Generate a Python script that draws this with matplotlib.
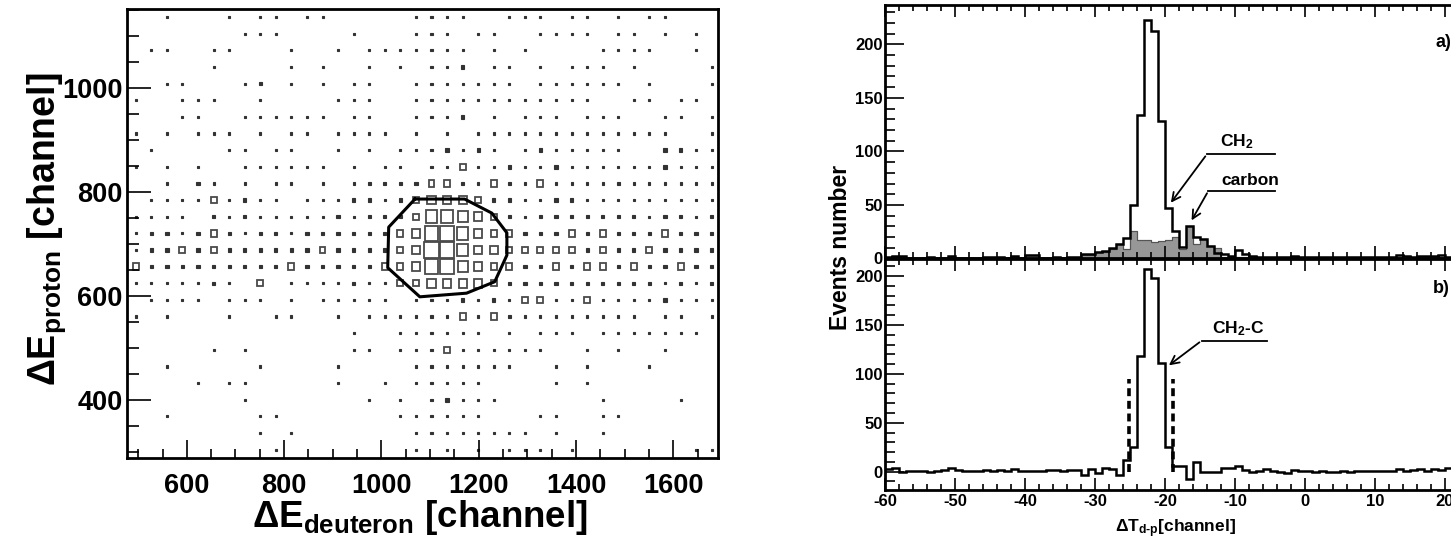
import numpy as np
import matplotlib
matplotlib.use('Agg')
import matplotlib.pyplot as plt
from matplotlib.patches import Rectangle
from matplotlib.ticker import MultipleLocator

plt.rcParams['font.family'] = ['Liberation Sans', 'DejaVu Sans']
plt.rcParams['font.weight'] = 'bold'
plt.rcParams['mathtext.fontset'] = 'custom'
plt.rcParams['mathtext.rm'] = 'Liberation Sans:bold'
plt.rcParams['mathtext.bf'] = 'Liberation Sans:bold'
plt.rcParams['mathtext.it'] = 'Liberation Sans:bold'
plt.rcParams['mathtext.sf'] = 'Liberation Sans'
plt.rcParams['mathtext.default'] = 'rm'
plt.rcParams['axes.unicode_minus'] = False

# ---- left: dE proton vs dE deuteron (box plot, 32 channel bins) ----
de_bin0 = 479      # first deuteron bin edge
dp_top = 1153      # top proton bin edge
bin_w = 32
# one string per proton bin (top -> bottom), one char per deuteron bin
# '.' empty, 1..8 = box size class
box_rows = [
    "..1...1.11" ".11.....11" "11..111.11" ".1.11...",
    ".......111" "....1...11" "1.11..1111" ".11.1.1.",
    ".11..11..." "1..1.11111" "11.1.1...." "1111..1.",
    ".....1...." "1.1..1.1.1" "12.11.1.11" "1.1....1",
    "..11...12." "1.1.11..11" "11111.1111" "11.1...1",
    "1..111..1." "...111..11" "1111111111" "..11.11.",
    "...11..111" "111.11..11" "12.1.111.1" "11..11.1",
    "1.1.111.1." "11.1111.1." "1.11111111" "11111..1",
    ".1....11.1" "1..1.1.111" "2121.12111" "11..2211",
    "1.1.1..111" "111.1.11.1" "1311211211" "11112111",
    "..1.21.1.1" "1.1.122223" "3213213111" "12111111",
    ".111131211" ".111221234" "4432211221" "11111111",
    "1111.21211" "1112122236" "6543212222" "22212212",
    "1221232122" "1222222347" "7643322232" "32223222",
    "1223232222" "2232222348" "8644333332" "32232222",
    "3222222222" "3222223347" "7543322323" "32322322",
    "1111121.3." "1111211334" "4443222222" "22221212",
    ".1111.111." "1.11111.11" "1212133113" "11112111",
    "1.1...1..1" "1..1.11111" "1313211111" "111.11.1",
    ".........." "....1..111" "111.1.111." "1111111.",
    ".....1.1.." "....11.111" "3111111..1" ".1..1...",
    "..1.....1." "...1....11" "11111..1.1" "...1....",
    "....1.11.." "...1..1.11" "111....1.1" "........",
    ".......1.." ".....1.1.1" "2111......" "1....1..",
    "..1.....11" ".......111" "111...11.." "11......",
    "........1." "1.......11" "111111.1.." "1.......",
    ".........1" "........1." "1.1.111.1." "......11",
]
box_frac = [0, 0.13, 0.21, 0.38, 0.52, 0.64, 0.75, 0.86, 0.95]

# graphical cut (polygon) in the dE-dE plane
cut_x = [1069, 1171, 1227, 1258, 1258, 1233, 1175, 1079, 1013, 1015, 1069]
cut_y = [787, 787, 760, 722, 679, 628, 606, 599, 655, 733, 787]

# ---- right: time difference spectra, 1 channel bins from -60 ----
dt_edges = np.arange(-60, 25)
ch2_counts = [1, 2, 2, 0.5, 0.5, 0.5, 1.5, 0.5, 0.5, 2.5,
              0.5, 0.5, 0.5, 0.5, 1.5, 1.5, 1.5, 0.5, 2, 0.5,
              3, 3, 0.5, 0.5, 1.5, 0.5, 1, 1.5, 4, 4,
              6, 7, 10, 14, 19, 50, 134, 223, 212, 128,
              47, 26, 11, 30, 20, 18, 12, 5, 4, 2,
              8, 4, 2, 1.5, 1, 1.5, 1.5, 1, 2, 1.5,
              1, 1, 1.5, 1, 1, 1, 1.5, 1, 1, 1,
              1, 1, 1.5, 3, 2, 1, 2, 2, 2.5, 3,
              1.5, 2, 2, 2]
carbon_counts = [1, 2, 2, 0.5, 0.5, 0.5, 1.5, 0.5, 0.5, 2.5,
                 0.5, 0.5, 0.5, 0.5, 1.5, 1.5, 1.5, 0.5, 2, 0.5,
                 3, 3, 0.5, 0.5, 1.5, 0.5, 1, 1.5, 3, 3,
                 6, 6, 9, 14, 9, 26, 17, 17, 15, 16,
                 17, 20, 9, 30, 14, 18, 12, 10, 1, 1,
                 1, 1, 1, 1, 1, 1, 1, 1, 1, 1,
                 1, 1, 1, 1, 1, 1, 1, 1, 1, 1,
                 1, 1, 1, 1, 1, 1, 1, 1, 1, 1,
                 1, 1, 1, 1]
diff_counts = [2.4, 3.5, -0.7, 1, 1, 1, -0.7, 1, 1.7, 3.5,
               1.7, 1, 1, 1, 1.7, 1, 2, 1, 2.4, 1,
               1, 1, 1, 1.7, 1.7, 1, 1.7, 1.7, -3.4, 2.4,
               -1.7, 3.5, 2.8, -3.4, 12, 25, 118, 207, 198, 111,
               25, 6, 6, -7.5, 10, 0, 0, 0, 3.4, 3.4,
               5.8, 1.4, 0, 1, 2.4, 1, 0, -1, 1.7, 1,
               0.7, -0.3, 1, 0, -0.7, 0.7, 0, 1, 1, 1,
               1, 1, 1, 2.4, 1, 1.7, 2.8, 1, 2.8, 1.7,
               3.5, 1, 1, 1]
cut_lines = [-25.1, -18.9]
cut_height = 95

W, H = 1451, 544
fig = plt.figure(figsize=(W / 100, H / 100), dpi=100)

def box(l, t, r, b):
    return [l / W, 1 - b / H, (r - l) / W, (b - t) / H]

# ================= left panel =================
ax = fig.add_axes(box(127, 9, 718, 458))
for j, row in enumerate(box_rows):
    for k, ch in enumerate(row):
        if ch == '.':
            continue
        lev = int(ch)
        cx = de_bin0 + bin_w * (k + 0.5)
        cy = dp_top - bin_w * (j + 0.5)
        s = box_frac[lev] * bin_w
        if lev <= 2:
            r = Rectangle((cx - s / 2, cy - s / 2), s, s, facecolor='#333333',
                          edgecolor='#333333', lw=0.8)
        else:
            r = Rectangle((cx - s / 2, cy - s / 2), s, s, facecolor='none',
                          edgecolor='#4a4a4a', lw=1.3)
        ax.add_patch(r)
ax.plot(cut_x, cut_y, color='black', lw=2.2)
ax.set_xlim(477, 1692)
ax.set_ylim(289, 1152.5)
ax.xaxis.set_major_locator(MultipleLocator(200))
ax.xaxis.set_minor_locator(MultipleLocator(50))
ax.yaxis.set_major_locator(MultipleLocator(200))
ax.yaxis.set_minor_locator(MultipleLocator(50))
ax.tick_params(axis='x', which='major', direction='in', length=13, width=1.2,
               labelsize=19.5, pad=11)
ax.tick_params(axis='x', which='minor', direction='in', length=6.5, width=1.2)
ax.tick_params(axis='y', which='major', direction='in', length=17, width=1.2,
               labelsize=19.5, pad=3)
ax.tick_params(axis='y', which='minor', direction='in', length=8.5, width=1.2)
for sp in ax.spines.values():
    sp.set_linewidth(2)

fig.text(420 / W, 1 - 527 / H, r'$\mathsf{\Delta}$E$_{\mathrm{deuteron}}$ [channel]',
         ha='center', va='baseline', fontsize=26.5, fontweight='bold')
fig.text(55 / W, 1 - 229 / H, r'$\mathsf{\Delta}$E$_{\mathrm{proton}}$ [channel]',
         ha='center', va='baseline', rotation=90, rotation_mode='anchor',
         fontsize=27, fontweight='bold')

# ================= right panels =================
x_lo, x_hi = -60, 24
px_per = 7
right_px = 885 + (x_hi - x_lo) * px_per
ax_a = fig.add_axes(box(885, 5, right_px, 258.5))
ax_b = fig.add_axes(box(885, 258.5, right_px, 490))

ax_a.stairs(carbon_counts, dt_edges, fill=True, facecolor='#979797',
            edgecolor='#555555', lw=0.8)
ax_a.stairs(carbon_counts, dt_edges, color='#555555', lw=0.8)
ax_a.stairs(ch2_counts, dt_edges, color='black', lw=1.8)
ax_a.set_ylim(0, 236.7)

ax_b.stairs(diff_counts, dt_edges, color='black', lw=1.8, baseline=None)
ax_b.vlines(cut_lines, 0, cut_height, colors='black', lw=2.6,
            linestyles=(0, (2.2, 1.3)))
ax_b.set_ylim(-18.8, 218)

for a in (ax_a, ax_b):
    a.set_xlim(x_lo, x_hi)
    a.xaxis.set_major_locator(MultipleLocator(10))
    a.xaxis.set_minor_locator(MultipleLocator(2))
    a.yaxis.set_major_locator(MultipleLocator(50))
    a.yaxis.set_minor_locator(MultipleLocator(10))
    a.tick_params(which='both', direction='in', top=True, right=True, width=1.2)
    a.tick_params(axis='x', which='major', length=8.5, labelsize=12, pad=3)
    a.tick_params(axis='x', which='minor', length=4.3)
    a.tick_params(axis='y', which='major', length=14, labelsize=12, pad=1.5)
    a.tick_params(axis='y', which='minor', length=7)
    for sp in a.spines.values():
        sp.set_linewidth(2)
ax_a.tick_params(axis='x', labelbottom=False)

arrow = dict(arrowstyle='->,head_length=0.6,head_width=0.3', lw=1.3, color='black')
# CH2 label
ax_a.plot([-14.0, -4.3], [97.5, 97.5], color='black', lw=1.3)
ax_a.annotate('', xy=(-19.4, 50), xytext=(-14.0, 97.5), arrowprops=arrow)
ax_a.text(-12.1, 100, r'CH$_2$', fontsize=12.5, fontweight='bold', va='bottom')
# carbon label
ax_a.plot([-13.8, -4.3], [63.2, 63.2], color='black', lw=1.3)
ax_a.annotate('', xy=(-16.4, 33.3), xytext=(-13.8, 63.2), arrowprops=arrow)
ax_a.text(-12.0, 65.5, 'carbon', fontsize=12.5, fontweight='bold', va='bottom')
# CH2-C label
ax_b.plot([-14.76, -5.47], [134, 134], color='black', lw=1.3)
ax_b.annotate('', xy=(-19.76, 107), xytext=(-14.76, 134), arrowprops=arrow)
ax_b.text(-13.3, 137, r'CH$_2$-C', fontsize=12.5, fontweight='bold', va='bottom')

fig.text(1436 / W, 1 - 47 / H, 'a)', fontsize=13, fontweight='bold', va='baseline')
fig.text(1433 / W, 1 - 293 / H, 'b)', fontsize=13, fontweight='bold', va='baseline')

fig.text(847 / W, 1 - 247.5 / H, 'Events number', ha='center', va='baseline',
         rotation=90, rotation_mode='anchor', fontsize=16.5, fontweight='bold')
fig.text(1175 / W, 1 - 532 / H, r'$\mathsf{\Delta}$T$_{\mathrm{d}\text{-}\mathrm{p}}$[channel]',
         ha='center', va='baseline', fontsize=12.5, fontweight='bold')

fig.savefig('out.png', dpi=100)
